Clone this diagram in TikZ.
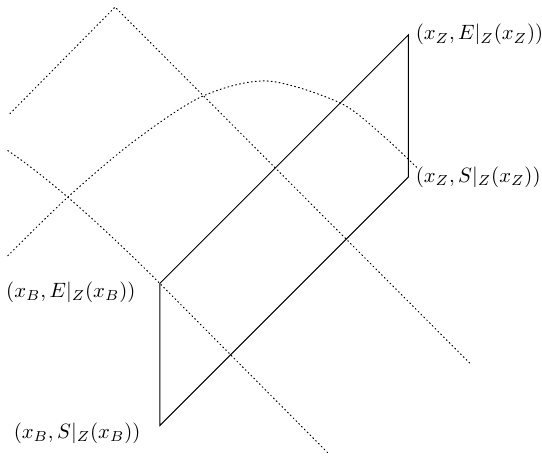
\documentclass[tikz,border=0pt]{standalone}
\usepackage{amsmath,amssymb}
\usepackage{tikz}
\begin{document}
\begin{tikzpicture}[line cap=round,guide/.style={dash pattern=on 0.4pt off 1.2pt},lbl/.style={scale=0.83}]
\useasboundingbox (-2.25,-0.42) rectangle (5.38,5.99);
\coordinate (BE) at (0,2);
\coordinate (BS) at (0,0);
\coordinate (ZE) at (3.5,5.5);
\coordinate (ZS) at (3.5,3.5);
\draw[guide] (-2.11,4.39) -- (-0.63,5.89) -- (4.38,0.86);
\draw[guide] (-2.14,3.87) .. controls (-1.58,3.49) and (-0.87,2.87) .. (BE) -- (2.37,-0.39);
\draw[guide] plot[smooth] coordinates {(-2.14,2.39) (-1.30,3.21) (-0.38,3.99) (0.59,4.63) (1.51,4.85) (2.54,4.54) (3.14,4.08) (3.62,3.63)};
\draw (BE) -- (ZE) -- (ZS) -- (BS) -- cycle;
\node[lbl,right] (lZE) at (ZE) {$(x_Z,E|_Z(x_Z))$};
\node[lbl,right] (lZS) at (ZS) {$(x_Z,S|_Z(x_Z))$};
\node[lbl,anchor=east] (lBE) at (-0.24,1.87) {$(x_B,E|_Z(x_B))$};
\node[lbl,anchor=east] (lBS) at (-0.17,-0.11) {$(x_B,S|_Z(x_B))$};
\end{tikzpicture}
\end{document}
